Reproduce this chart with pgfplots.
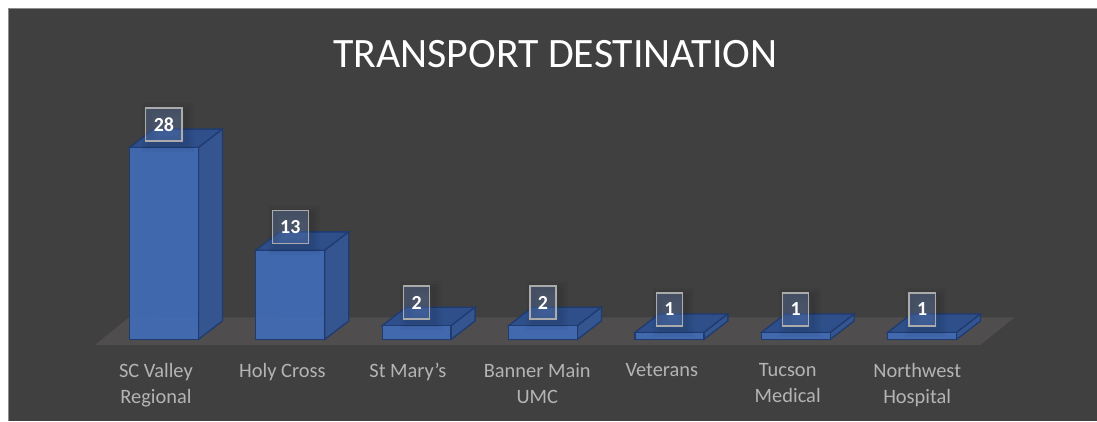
\documentclass[border=0pt]{standalone}
\usepackage{pgfplots}
\pgfplotsset{compat=1.18}
\usepackage{fontspec}
\setmainfont{Carlito}
\definecolor{bgd}{HTML}{404040}
\definecolor{floorc}{HTML}{4F4D4D}
\definecolor{frontc}{HTML}{416DB9}
\definecolor{sidec}{HTML}{34558F}
\definecolor{topc}{HTML}{2F4F8B}
\definecolor{edgec}{HTML}{1F3B70}
\definecolor{labelc}{HTML}{B4B4B4}
\definecolor{boxc}{HTML}{5A77AD}
\definecolor{boxline}{HTML}{ABABAB}
\begin{document}
\begin{tikzpicture}[x=1bp,y=1bp]
\fill[white] (0,0) rectangle (1097,421);
\fill[bgd] (8,0) rectangle (1097,413);
\draw[gray!90,line width=0.8bp] (8,0) -- (8,413) -- (1097,413);
\begin{axis}[
  at={(8bp,76bp)},anchor=south west,
  scale only axis,width=1080bp,height=337bp,
  xmin=-1.234,xmax=7.310,ymin=-0.803,ymax=48.39,
  clip=false,
  hide y axis,
  axis x line=bottom,
  x axis line style={draw=none,-},
  major tick length=0pt,
  /pgf/number format/assume math mode=true,
  xtick={-0.004,0.997,1.99,3.014,4,4.996,6.021},
  xticklabels={{SC Valley\\Regional},{Holy Cross},{St Mary\symbol{39}s},{Banner Main\\UMC},{Veterans},{Tucson\\Medical},{Northwest\\Hospital}},
  xticklabel style={align=center,text=labelc,font=\fontsize{20.5}{26}\selectfont,xshift=-7.5bp,yshift=-15bp},
  title={TRANSPORT DESTINATION},
  title style={at={(rel axis cs:0.507,0.8455)},anchor=center,text=white,font=\fontsize{42}{44}\selectfont},
  every axis plot/.append style={forget plot,no markers},
]
% floor
\addplot[fill=floorc,draw=none] coordinates {(-0.546,-0.8) (-0.277,3.2) (6.731,3.2) (6.463,-0.8)} -- cycle;
% back faces
\pgfplotsset{backf/.style={draw=edgec,fill=frontc,fill opacity=0.08,draw opacity=0.6,line width=0.8bp},
  sidef/.style={draw=edgec,fill=sidec,line width=1.3bp},
  topf/.style={draw=edgec,fill=topc,line width=1.3bp}}
\addplot[backf] coordinates {(-0.083,2.7) (0.463,2.7) (0.463,30.7) (-0.083,30.7)} -- cycle;
\addplot[backf] coordinates {(0.917,2.7) (1.463,2.7) (1.463,15.7) (0.917,15.7)} -- cycle;
\addplot[backf] coordinates {(-0.273,0) (-0.083,2.7)};
\addplot[backf] coordinates {(0.727,0) (0.917,2.7)};
% tops
\addplot[topf] coordinates {(-0.273,28) (-0.083,30.7) (0.463,30.7) (0.273,28)} -- cycle;
\addplot[topf] coordinates {(0.727,13) (0.917,15.7) (1.463,15.7) (1.273,13)} -- cycle;
\addplot[topf] coordinates {(1.727,2) (1.917,4.7) (2.463,4.7) (2.273,2)} -- cycle;
\addplot[topf] coordinates {(2.727,2) (2.917,4.7) (3.463,4.7) (3.273,2)} -- cycle;
\addplot[topf] coordinates {(3.727,1) (3.917,3.7) (4.463,3.7) (4.273,1)} -- cycle;
\addplot[topf] coordinates {(4.727,1) (4.917,3.7) (5.463,3.7) (5.273,1)} -- cycle;
\addplot[topf] coordinates {(5.727,1) (5.917,3.7) (6.463,3.7) (6.273,1)} -- cycle;
% sides
\addplot[sidef] coordinates {(0.273,0) (0.463,2.7) (0.463,30.7) (0.273,28)} -- cycle;
\addplot[sidef] coordinates {(1.273,0) (1.463,2.7) (1.463,15.7) (1.273,13)} -- cycle;
\addplot[sidef] coordinates {(2.273,0) (2.463,2.7) (2.463,4.7) (2.273,2)} -- cycle;
\addplot[sidef] coordinates {(3.273,0) (3.463,2.7) (3.463,4.7) (3.273,2)} -- cycle;
\addplot[sidef] coordinates {(4.273,0) (4.463,2.7) (4.463,3.7) (4.273,1)} -- cycle;
\addplot[sidef] coordinates {(5.273,0) (5.463,2.7) (5.463,3.7) (5.273,1)} -- cycle;
\addplot[sidef] coordinates {(6.273,0) (6.463,2.7) (6.463,3.7) (6.273,1)} -- cycle;
% fronts with labels
\addplot[ybar,bar width=69bp,bar shift=0pt,fill=frontc,fill opacity=0.9,draw=edgec,line width=1.3bp,
  nodes near coords,
  nodes near coords style={anchor=south,yshift=6bp,draw=boxline,line width=1.2bp,
     fill=boxc,fill opacity=0.38,text opacity=1,draw opacity=1,text=white,
     /pgf/number format/assume math mode=true,
     font=\fontsize{20}{20}\selectfont\bfseries,
     inner xsep=8bp,minimum height=33bp,inner ysep=0pt,
     preaction={draw=black,draw opacity=0.03,fill=none,line width=16bp,transform canvas={xshift=4bp,yshift=-3bp}},
     preaction={draw=black,draw opacity=0.035,fill=none,line width=10bp,transform canvas={xshift=4bp,yshift=-3bp}},
     preaction={draw=black,draw opacity=0.04,fill=none,line width=4bp,transform canvas={xshift=4bp,yshift=-3bp}}}]
 coordinates {(0,28) (1,13) (2,2) (3,2) (4,1) (5,1) (6,1)};
\end{axis}
\path (0,0) rectangle (1097,421);
\end{tikzpicture}
\end{document}
